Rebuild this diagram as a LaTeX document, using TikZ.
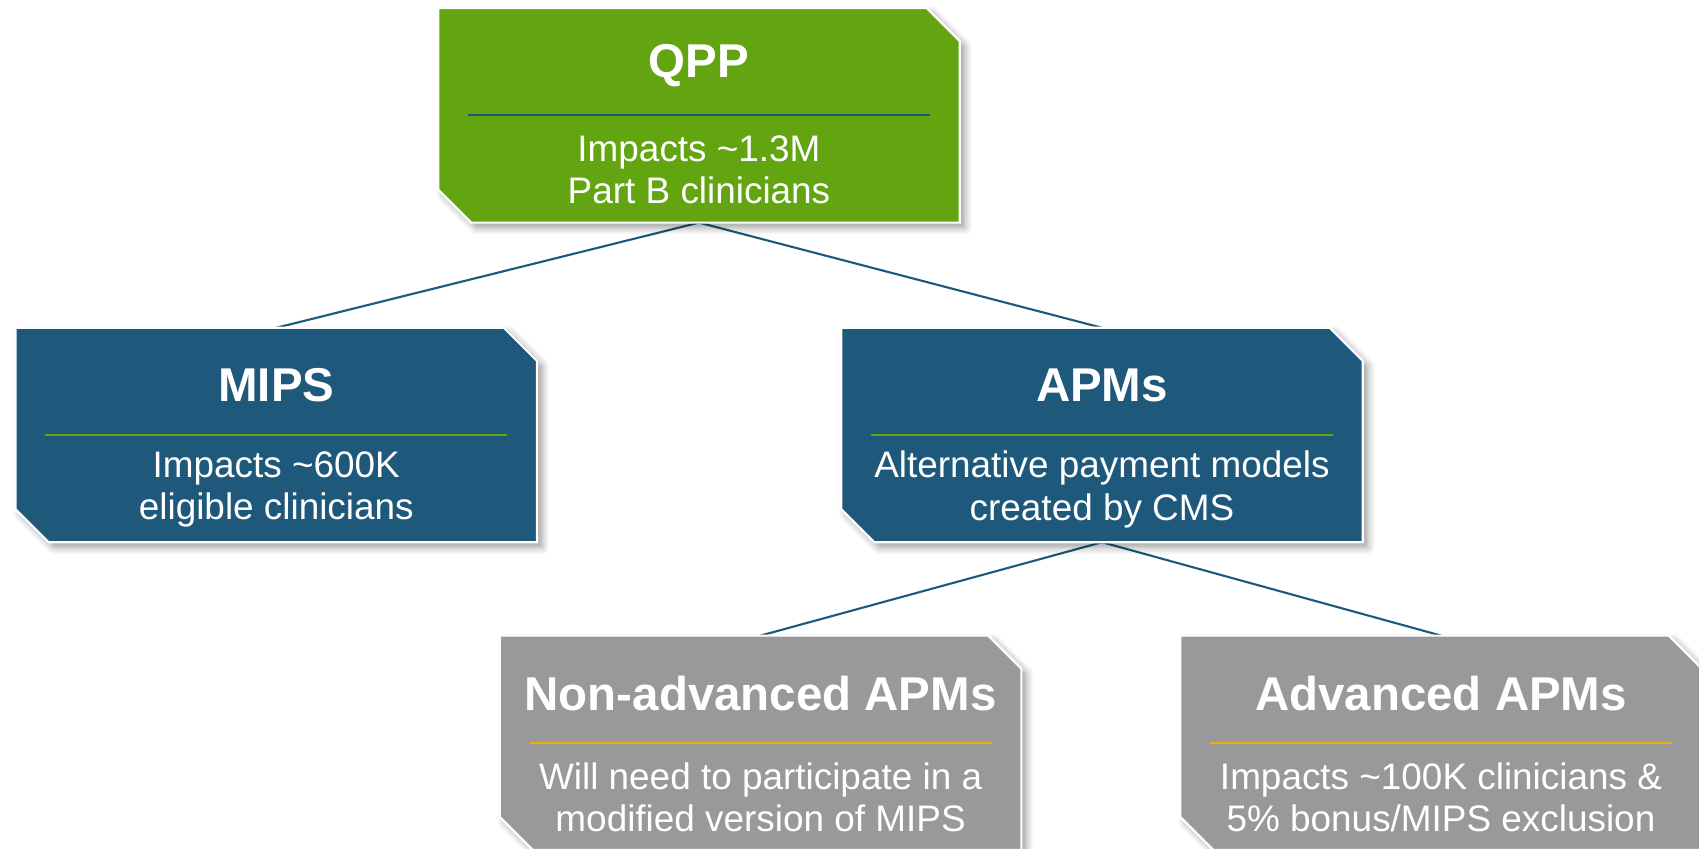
\documentclass[tikz,border=0pt]{standalone}
\usepackage{fontspec}
\setmainfont{Liberation Sans}
\usetikzlibrary{shadows.blur}

\definecolor{qppgreen}{RGB}{98,165,17}
\definecolor{qppblue}{RGB}{30,88,122}
\definecolor{qppgrey}{RGB}{154,152,155}
\definecolor{qppgold}{RGB}{232,176,0}

\tikzstyle{programbox}=[rectangle,minimum width=5.2cm,minimum height=2.13cm,inner sep=0pt]
\tikzstyle{programfill}=[draw=white,line width=0.6pt,blur shadow={shadow xshift=0.05cm,shadow yshift=-0.05cm,shadow blur steps=6,shadow opacity=40}]
\tikzstyle{programtitle}=[text=white,font=\fontsize{13.5}{16}\selectfont\bfseries]
\tikzstyle{programtext}=[text=white,align=center,font=\fontsize{10.5}{12}\selectfont]
\tikzstyle{separator}=[line width=0.6pt]
\tikzstyle{treeedge}=[draw=qppblue,line width=0.6pt]

% box outline with the top right and bottom left corners cut off
\newcommand{\cutbox}[2]{%
  \path[programfill,fill=#2] (#1.north west) -- ([xshift=-0.33cm]#1.north east)
    -- ([yshift=-0.33cm]#1.north east) -- (#1.south east)
    -- ([xshift=0.33cm]#1.south west) -- ([yshift=0.33cm]#1.south west) -- cycle;}

\begin{document}
\begin{tikzpicture}
\useasboundingbox (0,0) rectangle (16.99,-8.49);
\clip (0,0) rectangle (16.99,-8.49);

% the three levels of the program tree
\node[programbox] (QPP) at (6.99cm,-1.154cm) {};
\node[programbox] (MIPS) at (2.763cm,-4.35cm) {};
\node[programbox] (APM) at (11.02cm,-4.35cm) {};
\node[programbox] (NAPM) at (7.606cm,-7.428cm) {};
\node[programbox] (AAPM) at (14.41cm,-7.428cm) {};

\draw[treeedge] (QPP.south) -- (MIPS.north);
\draw[treeedge] (QPP.south) -- (APM.north);
\draw[treeedge] (APM.south) -- (NAPM.north);
\draw[treeedge] (APM.south) -- (AAPM.north);

\cutbox{QPP}{qppgreen}
\cutbox{MIPS}{qppblue}
\cutbox{APM}{qppblue}
\cutbox{NAPM}{qppgrey}
\cutbox{AAPM}{qppgrey}

\node[programtitle] (QPPT) at ([yshift=0.495cm]QPP.center) {QPP};
\node[programtitle] (MIPST) at ([yshift=0.495cm]MIPS.center) {MIPS};
\node[programtitle] (APMT) at ([yshift=0.495cm]APM.center) {APMs};
\node[programtitle] (NAPMT) at ([yshift=0.495cm]NAPM.center) {Non-advanced APMs};
\node[programtitle] (AAPMT) at ([yshift=0.495cm]AAPM.center) {Advanced APMs};

\draw[separator,qppblue] ([xshift=-2.31cm]QPP.center) -- ([xshift=2.31cm]QPP.center);
\draw[separator,qppgreen] ([xshift=-2.31cm]MIPS.center) -- ([xshift=2.31cm]MIPS.center);
\draw[separator,qppgreen] ([xshift=-2.31cm]APM.center) -- ([xshift=2.31cm]APM.center);
\draw[separator,qppgold] ([xshift=-2.31cm]NAPM.center) -- ([xshift=2.31cm]NAPM.center);
\draw[separator,qppgold] ([xshift=-2.31cm]AAPM.center) -- ([xshift=2.31cm]AAPM.center);

\node[programtext] (QPPB) at ([yshift=-0.545cm]QPP.center) {Impacts \textasciitilde1.3M\\Part B clinicians};
\node[programtext] (MIPSB) at ([yshift=-0.545cm]MIPS.center) {Impacts \textasciitilde600K\\eligible clinicians};
\node[programtext] (APMB) at ([yshift=-0.545cm]APM.center) {Alternative payment models\\created by CMS};
\node[programtext] (NAPMB) at ([yshift=-0.545cm]NAPM.center) {Will need to participate in a\\modified version of MIPS};
\node[programtext] (AAPMB) at ([yshift=-0.545cm]AAPM.center) {Impacts \textasciitilde100K clinicians \&\\5\% bonus/MIPS exclusion};

\end{tikzpicture}
\end{document}
